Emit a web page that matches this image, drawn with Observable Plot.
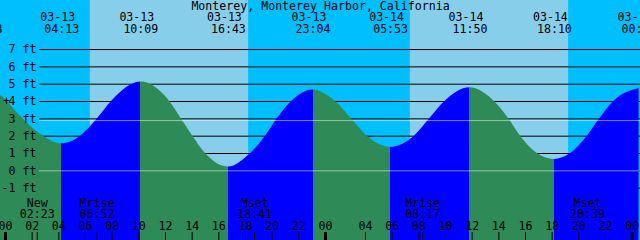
<!DOCTYPE html>
<html><head><meta charset="utf-8">
<script src="https://cdn.jsdelivr.net/npm/d3@7"></script>
<script src="https://cdn.jsdelivr.net/npm/@observablehq/plot@0.6"></script>
<style>html,body{margin:0;padding:0;background:#fff;overflow:hidden}svg{display:block}</style>
</head><body><div id="chart"></div>
<script>
const title = "Monterey, Monterey Harbor, California";

// Tide extremes (local clock)
const tideTimes = ["2010-03-12T22:28-08:00","2010-03-13T04:13-08:00","2010-03-13T10:09-08:00","2010-03-13T16:43-08:00","2010-03-13T23:04-08:00","2010-03-14T05:53-07:00","2010-03-14T11:50-07:00","2010-03-14T18:10-07:00","2010-03-15T00:31-07:00"];
const tideDates = ["03-12","03-13","03-13","03-13","03-13","03-14","03-14","03-14","03-15"];
const tideClock = ["22:28","04:13","10:09","16:43","23:04","05:53","11:50","18:10","00:31"];
const tideHeights = [4.62,1.56,5.12,0.22,4.67,1.36,4.79,0.66,4.75];

// Water level readings (ft)
const curveTimes = ["2010-03-12T22:28-08:00","2010-03-12T23:38-08:00","2010-03-13T00:54-08:00","2010-03-13T02:15-08:00","2010-03-13T02:51-08:00","2010-03-13T04:13-08:00","2010-03-13T05:38-08:00","2010-03-13T06:54-08:00","2010-03-13T07:57-08:00","2010-03-13T09:32-08:00","2010-03-13T10:09-08:00","2010-03-13T12:19-08:00","2010-03-13T13:11-08:00","2010-03-13T14:03-08:00","2010-03-13T15:00-08:00","2010-03-13T16:43-08:00","2010-03-13T18:23-08:00","2010-03-13T19:30-08:00","2010-03-13T20:23-08:00","2010-03-13T21:27-08:00","2010-03-13T23:04-08:00","2010-03-14T00:45-08:00","2010-03-14T01:57-08:00","2010-03-14T04:08-07:00","2010-03-14T05:53-07:00","2010-03-14T07:40-07:00","2010-03-14T08:49-07:00","2010-03-14T09:57-07:00","2010-03-14T11:50-07:00","2010-03-14T13:40-07:00","2010-03-14T14:45-07:00","2010-03-14T15:38-07:00","2010-03-14T16:53-07:00","2010-03-14T18:10-07:00","2010-03-14T19:23-07:00","2010-03-14T20:38-07:00","2010-03-14T21:34-07:00","2010-03-14T22:37-07:00","2010-03-15T00:31-07:00"];
const curveFeet = [4.62,4.35,3.33,2.33,2.0,1.56,2.0,3.0,4.0,5.0,5.12,4.0,3.0,2.0,1.0,0.22,1.0,2.0,3.0,4.0,4.67,4.0,3.0,2.0,1.36,2.0,3.0,4.0,4.79,4.0,3.0,2.0,1.0,0.66,1.0,2.0,3.0,4.0,4.75];

// Sun
const sunrise = ["2010-03-13T06:22-08:00","2010-03-14T07:22-07:00"];
const sunset = ["2010-03-13T18:14-08:00","2010-03-14T19:14-07:00"];

// Moon events
const moonTimes = ["2010-03-13T02:23-08:00","2010-03-13T06:52-08:00","2010-03-13T18:41-08:00","2010-03-14T08:17-07:00","2010-03-14T20:39-07:00"];
const moonNames = ["New","Mrise","Mset","Mrise","Mset"];
const moonClock = ["02:23","06:52","18:41","08:17","20:39"];

// Hour ticks
const hourTimes = ["2010-03-13T00:00-08:00","2010-03-13T02:00-08:00","2010-03-13T04:00-08:00","2010-03-13T06:00-08:00","2010-03-13T08:00-08:00","2010-03-13T10:00-08:00","2010-03-13T12:00-08:00","2010-03-13T14:00-08:00","2010-03-13T16:00-08:00","2010-03-13T18:00-08:00","2010-03-13T20:00-08:00","2010-03-13T22:00-08:00","2010-03-14T00:00-08:00","2010-03-14T04:00-07:00","2010-03-14T06:00-07:00","2010-03-14T08:00-07:00","2010-03-14T10:00-07:00","2010-03-14T12:00-07:00","2010-03-14T14:00-07:00","2010-03-14T16:00-07:00","2010-03-14T18:00-07:00","2010-03-14T20:00-07:00","2010-03-14T22:00-07:00","2010-03-15T00:00-07:00"];
const hourLabels = ["00","02","04","06","08","10","12","14","16","18","20","22","00","04","06","08","10","12","14","16","18","20","22","00"];

const yTicks = [-1,0,1,2,3,4,5,6,7];
const mslFeet = 2.9;
const datumFeet = 0;
const xDomain = ["2010-03-12T23:37:30-08:00","2010-03-15T00:37:30-07:00"];
const yDomain = [-4.02, 9.83];

const NIGHT = "#00BFFF", DAY = "#87CEEB", FLOOD = "#0000FF", EBB = "#2E8B57";

const D = s => new Date(s);
const curve = curveTimes.map((t,i) => ({time: D(t), ft: curveFeet[i]}));
const tides = tideTimes.map((t,i) => ({time: D(t), date: tideDates[i], clock: tideClock[i]}));
const days = sunrise.map((t,i) => ({x1: D(t), x2: D(sunset[i])}));
const moons = moonTimes.map((t,i) => ({time: D(t), name: moonNames[i], clock: moonClock[i]}));
const hours = hourTimes.map((t,i) => ({time: D(t), label: hourLabels[i]}));

const chart = Plot.plot({
  width: 640, height: 240,
  marginTop: 0, marginRight: 0, marginBottom: 0, marginLeft: 0,
  x: {type: "utc", domain: xDomain.map(D), axis: null},
  y: {domain: yDomain, axis: null},
  style: {background: NIGHT, fontFamily: "DejaVu Sans Mono", fontSize: "11.6px", color: "black"},
  marks: [
    Plot.rect(days, {x1: "x1", x2: "x2", y1: yDomain[0], y2: yDomain[1], fill: DAY}),
    Plot.ruleY(yTicks, {stroke: "black", insetLeft: 39}),
    Plot.areaY(curve, {x: "time", y1: yDomain[0], y2: "ft", fill: "url(#tideFill)", curve: "monotone-x"}),
    Plot.ruleY([datumFeet, mslFeet], {stroke: "white", strokeOpacity: 0.5, insetLeft: 39}),
    Plot.text(yTicks, {y: d => d, text: d => `${d} ft`, frameAnchor: "left", textAnchor: "end", dx: 36, lineAnchor: "middle"}),
    Plot.text([4], {y: d => d, text: () => "+", frameAnchor: "left", textAnchor: "middle", dx: 6, lineAnchor: "middle"}),
    Plot.text([title], {text: d => d, frameAnchor: "top", dy: 6, lineAnchor: "middle"}),
    Plot.text(tides, {x: "time", text: "date", frameAnchor: "top", dy: 17, dx: -4, lineAnchor: "middle"}),
    Plot.text(tides, {x: "time", text: "clock", frameAnchor: "top", dy: 29, lineAnchor: "middle"}),
    Plot.text(moons, {x: "time", text: "name", frameAnchor: "bottom", dy: -37, lineAnchor: "middle"}),
    Plot.text(moons, {x: "time", text: "clock", frameAnchor: "bottom", dy: -26.5, lineAnchor: "middle"}),
    Plot.text(hours, {x: "time", text: "label", frameAnchor: "bottom", dy: -14, lineAnchor: "middle"}),
    Plot.ruleX(hours, {x: "time", stroke: "black", strokeWidth: d => d.label === "00" ? 3 : 1, insetTop: 232}),
    Plot.ruleX(moons, {x: "time", stroke: "black", insetTop: 232})
  ]
});

// Flood/ebb colouring between extremes
const xs = chart.scale("x");
const ns = "http://www.w3.org/2000/svg";
const defs = document.createElementNS(ns, "defs");
const grad = document.createElementNS(ns, "linearGradient");
grad.setAttribute("id", "tideFill");
grad.setAttribute("gradientUnits", "userSpaceOnUse");
grad.setAttribute("x1", 0); grad.setAttribute("x2", 640);
grad.setAttribute("y1", 0); grad.setAttribute("y2", 0);
const bounds = [-1e6, ...tides.map(t => xs.apply(t.time)), 1e6];
const n = tideHeights.length;
for (let k = 0; k <= n; k++) {
  let rising;
  if (k === 0) rising = tideHeights[0] > tideHeights[1];
  else if (k === n) rising = tideHeights[n-1] < tideHeights[n-2];
  else rising = tideHeights[k] > tideHeights[k-1];
  const c = rising ? FLOOD : EBB;
  for (const px of [bounds[k], bounds[k+1]]) {
    const s = document.createElementNS(ns, "stop");
    s.setAttribute("offset", Math.max(0, Math.min(1, px / 640)));
    s.setAttribute("stop-color", c);
    grad.appendChild(s);
  }
}
defs.appendChild(grad);
chart.insertBefore(defs, chart.firstChild);
document.getElementById("chart").appendChild(chart);
</script>
</body></html>
